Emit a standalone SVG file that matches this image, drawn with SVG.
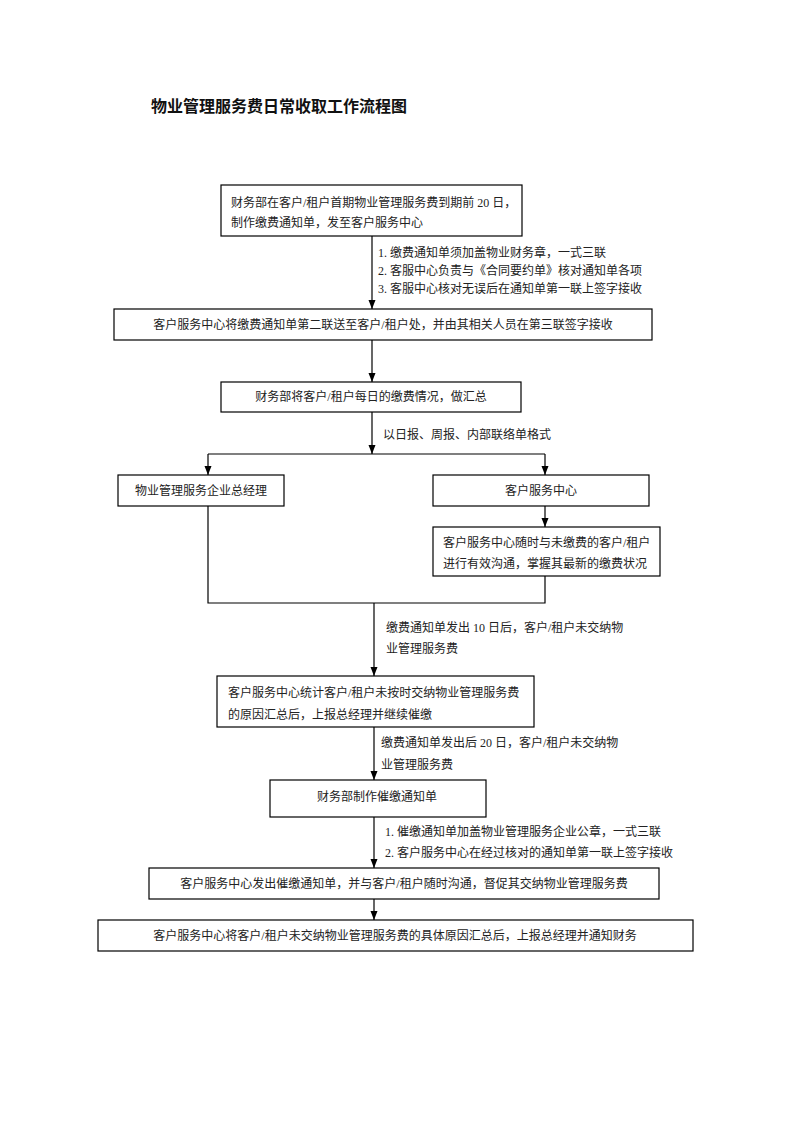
<svg xmlns="http://www.w3.org/2000/svg" width="793" height="1122" viewBox="0 0 793 1122">
<style>
  .bg{fill:#ffffff}
  .box{fill:#ffffff;stroke:#000;stroke-width:1.2}
  .t{font-family:"Liberation Serif","Noto Sans CJK SC",serif;font-size:12px;fill:#222}
  .c{text-anchor:middle}
  .a{font-size:12px}
  .title{font-family:"Liberation Sans","Noto Sans CJK SC",sans-serif;font-size:16px;font-weight:bold;fill:#111}
  .ln{fill:none;stroke:#000;stroke-width:1.2}
</style>
<defs>
  <marker id="arr" markerUnits="userSpaceOnUse" markerWidth="10" markerHeight="8" refX="9" refY="3.5" orient="auto">
    <path d="M0,0 L9,3.5 L0,7 z" fill="#000"/>
  </marker>
</defs>
<rect class="bg" x="0" y="0" width="793" height="1122"/>
<text class="title" x="151" y="112">物业管理服务费日常收取工作流程图</text>

<g id="connectors">
  <path class="ln" d="M372,236 V309" marker-end="url(#arr)"/>
  <path class="ln" d="M372,340 V382" marker-end="url(#arr)"/>
  <path class="ln" d="M372,412 V454" marker-end="url(#arr)"/>
  <path class="ln" d="M208,454 H545"/>
  <path class="ln" d="M208,454 V475" marker-end="url(#arr)"/>
  <path class="ln" d="M545,454 V475" marker-end="url(#arr)"/>
  <path class="ln" d="M545,506 V527" marker-end="url(#arr)"/>
  <path class="ln" d="M208,506 V603 H545 V576"/>
  <path class="ln" d="M374,603 V676" marker-end="url(#arr)"/>
  <path class="ln" d="M374,727 V780" marker-end="url(#arr)"/>
  <path class="ln" d="M374,817 V868" marker-end="url(#arr)"/>
  <path class="ln" d="M374,899 V920" marker-end="url(#arr)"/>
  <text class="t a" x="378" y="257">1. 缴费通知单须加盖物业财务章，一式三联</text>
  <text class="t a" x="378" y="275">2. 客服中心负责与《合同要约单》核对通知单各项</text>
  <text class="t a" x="378" y="293">3. 客服中心核对无误后在通知单第一联上签字接收</text>
  <text class="t a" x="383" y="439">以日报、周报、内部联络单格式</text>
  <text class="t a" x="386" y="632">缴费通知单发出 10 日后，客户/租户未交纳物</text>
  <text class="t a" x="386" y="653">业管理服务费</text>
  <text class="t a" x="381" y="747">缴费通知单发出后 20 日，客户/租户未交纳物</text>
  <text class="t a" x="381" y="769">业管理服务费</text>
  <text class="t a" x="385" y="836">1. 催缴通知单加盖物业管理服务企业公章，一式三联</text>
  <text class="t a" x="385" y="857">2. 客户服务中心在经过核对的通知单第一联上签字接收</text>
</g>

<g id="n1">
  <rect class="box" x="221" y="185" width="301" height="51"/>
  <text class="t" x="231" y="207">财务部在客户/租户首期物业管理服务费到期前 20 日，</text>
  <text class="t" x="231" y="227">制作缴费通知单，发至客户服务中心</text>
</g>
<g id="n2">
  <rect class="box" x="114" y="309" width="538" height="31"/>
  <text class="t c" x="383" y="329">客户服务中心将缴费通知单第二联送至客户/租户处，并由其相关人员在第三联签字接收</text>
</g>
<g id="n3">
  <rect class="box" x="221" y="382" width="300" height="30"/>
  <text class="t c" x="371" y="401">财务部将客户/租户每日的缴费情况，做汇总</text>
</g>
<g id="n4">
  <rect class="box" x="118" y="475" width="166" height="31"/>
  <text class="t c" x="201" y="495">物业管理服务企业总经理</text>
</g>
<g id="n5">
  <rect class="box" x="433" y="475" width="216" height="31"/>
  <text class="t c" x="541" y="495">客户服务中心</text>
</g>
<g id="n6">
  <rect class="box" x="433" y="527" width="227" height="49"/>
  <text class="t" x="443" y="547">客户服务中心随时与未缴费的客户/租户</text>
  <text class="t" x="443" y="568">进行有效沟通，掌握其最新的缴费状况</text>
</g>
<g id="n7">
  <rect class="box" x="217" y="676" width="317" height="51"/>
  <text class="t" x="228" y="697">客户服务中心统计客户/租户未按时交纳物业管理服务费</text>
  <text class="t" x="228" y="719">的原因汇总后，上报总经理并继续催缴</text>
</g>
<g id="n8">
  <rect class="box" x="270" y="780" width="216" height="37"/>
  <text class="t c" x="377" y="801">财务部制作催缴通知单</text>
</g>
<g id="n9">
  <rect class="box" x="149" y="868" width="510" height="31"/>
  <text class="t c" x="404" y="888">客户服务中心发出催缴通知单，并与客户/租户随时沟通，督促其交纳物业管理服务费</text>
</g>
<g id="n10">
  <rect class="box" x="98" y="920" width="595" height="31"/>
  <text class="t c" x="395" y="940">客户服务中心将客户/租户未交纳物业管理服务费的具体原因汇总后，上报总经理并通知财务</text>
</g>
</svg>
